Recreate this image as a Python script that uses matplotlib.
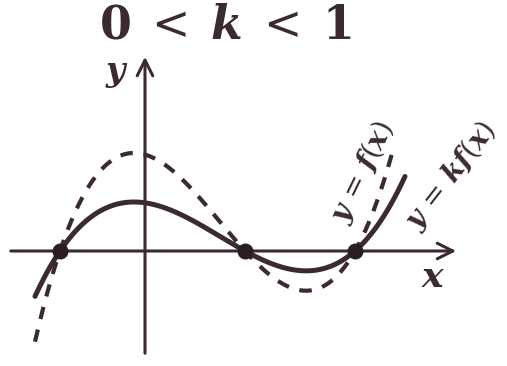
import matplotlib
matplotlib.use('Agg')
import matplotlib.pyplot as plt
import numpy as np

# roots of f (in graph units), leading coefficient and the factor k
roots = [-1.7, 2.0, 4.2]
lead = 0.135
k = 0.5
# plotted x-ranges of both curves
f_range = [-2.2, 4.95]
kf_range = [-2.2, 5.2]

ink = '#3b2b2e'

def f(x):
    return lead * np.prod([x - r for r in roots], axis=0)

fig = plt.figure(figsize=(5.07, 3.66), dpi=100)
ax = fig.add_axes([0, 0, 1, 1])
ax.set_xlim(-2.9, 7.24)
ax.set_ylim(-2.3, 5.02)
ax.axis('off')

# axes with open arrow heads
ax.annotate('', xy=(6.28, 0), xytext=(-2.74, 0),
            arrowprops=dict(arrowstyle='->', lw=2.2, color=ink, mutation_scale=28))
ax.annotate('', xy=(0, 3.94), xytext=(0, -2.1),
            arrowprops=dict(arrowstyle='->', lw=2.2, color=ink, mutation_scale=28))

xs = np.linspace(f_range[0], f_range[1], 400)
ax.plot(xs, f(xs), color=ink, lw=3, dashes=(3.0, 2.6))
xs2 = np.linspace(kf_range[0], kf_range[1], 400)
ax.plot(xs2, k * f(xs2), color=ink, lw=3.6, solid_capstyle='round')

# shared roots
ax.scatter(roots, [0] * len(roots), s=110, color='#2a1e22', zorder=5)

ax.text(1.6, 4.5, r'$\mathbf{0}\;<\;\mathbfit{k}\;<\;\mathbf{1}$', fontsize=33,
        ha='center', va='center', color=ink, math_fontfamily='dejavuserif')
ax.text(-0.56, 3.56, r'$\mathbfit{y}$', fontsize=24, ha='center', va='center',
        color=ink, math_fontfamily='dejavuserif')
ax.text(5.76, -0.52, r'$\mathbfit{x}$', fontsize=26, ha='center', va='center',
        color=ink, math_fontfamily='dejavuserif')
ax.text(4.36, 1.58, r'$\mathbfit{y}\,=\,\mathbfit{f}(\mathbfit{x})$', fontsize=20,
        ha='center', va='center', rotation=64, color=ink,
        math_fontfamily='dejavuserif')
ax.text(6.12, 1.5, r'$\mathbfit{y}\,=\,\mathbfit{kf}(\mathbfit{x})$', fontsize=20,
        ha='center', va='center', rotation=52, color=ink,
        math_fontfamily='dejavuserif')

fig.savefig('out.png', dpi=100)
